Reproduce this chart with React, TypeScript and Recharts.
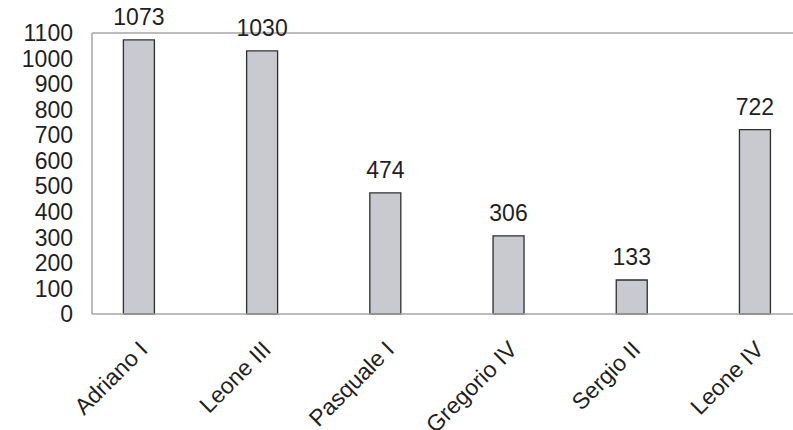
import { BarChart, Bar, XAxis, YAxis, ReferenceLine, LabelList } from 'recharts';

const popes = ['Adriano I', 'Leone III', 'Pasquale I', 'Gregorio IV', 'Sergio II', 'Leone IV'];
const counts = [1073, 1030, 474, 306, 133, 722];
const yTicks = [0, 100, 200, 300, 400, 500, 600, 700, 800, 900, 1000, 1100];

const data = popes.map((name, i) => ({ idx: i, name, value: counts[i] }));

const FONT = '"Liberation Sans", Arial, sans-serif';
const TEXT = '#1f1f1f';
const AXIS = '#a6a6a6';

// category names sit at -45°, their ends tucked just right of each bar
function RotatedTick({ x, y, payload }: { x?: number; y?: number; payload?: { value: number } }) {
  const label = popes[payload?.value ?? 0];
  const tx = (x ?? 0) + 10;
  const ty = (y ?? 0) + 29;
  return (
    <text x={tx} y={ty} textAnchor="end" fill={TEXT} fontSize={23} fontFamily={FONT}
      transform={`rotate(-45, ${tx}, ${ty})`}>
      {label}
    </text>
  );
}

export default function App() {
  return (
    <div style={{ position: 'absolute', left: 0, top: 0, width: 793, height: 430, background: '#fff' }}>
      <BarChart width={793} height={430} data={data} margin={{ top: 33, right: 0, left: 0, bottom: 0 }}>
        <XAxis dataKey="idx" type="number" domain={[-0.3815, 5.308]} allowDataOverflow
          ticks={[0, 1, 2, 3, 4, 5]} interval={0} tick={<RotatedTick />}
          axisLine={{ stroke: AXIS, strokeWidth: 1.5 }} tickLine={false} height={116} />
        <YAxis domain={[0, 1100]} ticks={yTicks} interval={0} width={92}
          axisLine={{ stroke: AXIS, strokeWidth: 1.5 }} tickLine={false} tickMargin={13}
          tick={{ fill: TEXT, fontSize: 23, fontFamily: FONT }} />
        <ReferenceLine y={1100} stroke={AXIS} strokeWidth={1.5} />
        <Bar dataKey="value" barSize={31} fill="#c9cacf" stroke="#2e2e2e" strokeWidth={1.3}
          isAnimationActive={false}>
          <LabelList dataKey="value" position="top" offset={15} fill={TEXT} fontSize={23} fontFamily={FONT} />
        </Bar>
      </BarChart>
    </div>
  );
}
